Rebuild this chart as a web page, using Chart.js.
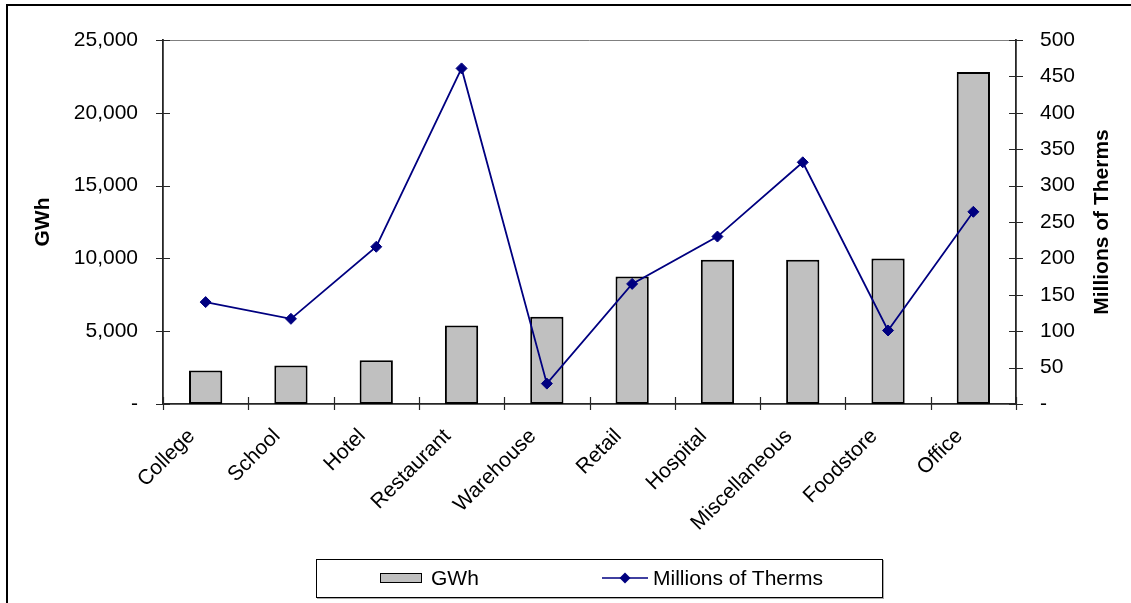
<!DOCTYPE html>
<html><head><meta charset="utf-8">
<script src="https://cdn.jsdelivr.net/npm/chart.js@4.4.0/dist/chart.umd.min.js"></script>
<style>
html,body{margin:0;padding:0;background:#fff;width:1131px;height:603px;overflow:hidden;font-family:"Liberation Sans",Arial,sans-serif;}
#wrap{position:relative;width:1131px;height:603px;}
#c{position:absolute;left:0;top:0;}
#frame{position:absolute;left:6px;top:4px;width:1200px;height:597px;border-left:2px solid #000;border-top:2px solid #000;pointer-events:none;}
#legend{position:absolute;left:316px;top:559px;width:565px;height:37px;border:1px solid #000;box-shadow:1px 1px 0 #aaa;font-size:21px;color:#000;}
#legend .sw{position:absolute;left:63px;top:13px;width:40px;height:8px;background:#c0c0c0;border:1.5px solid #000;}
#legend .t1{position:absolute;left:114px;top:6px;line-height:24px;}
#legend svg{position:absolute;left:285px;top:11px;}
#legend .t2{position:absolute;left:336px;top:6px;line-height:24px;}
</style></head>
<body><div id="wrap">
<canvas id="c" width="1131" height="603"></canvas>
<div id="frame"></div>
<div id="legend"></div>
</div>
<script>
const categories = ['College','School','Hotel','Restaurant','Warehouse','Retail','Hospital','Miscellaneous','Foodstore','Office'];
const gwh = [2300, 2650, 3000, 5400, 6000, 8750, 9900, 9900, 10000, 22800];
const therms = [140, 117, 216, 461, 28, 165, 230, 332, 101, 264];
const leftTitle = 'GWh';
const rightTitle = 'Millions of Therms';
const gwhLabel = 'GWh';
const thermsLabel = 'Millions of Therms';

const FONT = '"Liberation Sans", Arial, sans-serif';
const barColor = '#c0c0c0';
const lineColor = '#000080';
const axisColor = '#262626';

const fmt = v => v === 0 ? '-' : v.toLocaleString('en-US');

const decor = {
  id: 'decor',
  afterDraw(chart) {
    const ctx = chart.ctx, a = chart.chartArea;
    const y = chart.scales.y, y1 = chart.scales.y1, x = chart.scales.x;
    ctx.save();
    // top plot border
    ctx.strokeStyle = '#808080'; ctx.lineWidth = 1;
    ctx.beginPath(); ctx.moveTo(a.left, a.top + 0.5); ctx.lineTo(a.right, a.top + 0.5); ctx.stroke();
    // tick marks
    ctx.strokeStyle = axisColor; ctx.lineWidth = 1.2;
    ctx.beginPath();
    y.ticks.forEach((t, i) => { const p = Math.round(y.getPixelForTick(i)) + 0.5; ctx.moveTo(a.left - 7, p); ctx.lineTo(a.left + 7, p); });
    y1.ticks.forEach((t, i) => { const p = Math.round(y1.getPixelForTick(i)) + 0.5; ctx.moveTo(a.right - 7, p); ctx.lineTo(a.right + 7, p); });
    const half = (x.getPixelForValue(1) - x.getPixelForValue(0)) / 2;
    for (let i = 0; i <= categories.length; i++) {
      const px = Math.round((i < categories.length ? x.getPixelForValue(i) - half : x.getPixelForValue(i - 1) + half)) + 0.5;
      ctx.moveTo(px, a.bottom - 7); ctx.lineTo(px, a.bottom + 6);
    }
    ctx.stroke();
    // axis titles
    ctx.fillStyle = '#000'; ctx.font = 'bold 21px ' + FONT;
    ctx.textAlign = 'center'; ctx.textBaseline = 'middle';
    const cy = (a.top + a.bottom) / 2;
    [[a.left - 120, leftTitle], [a.right + 86, rightTitle]].forEach(([tx, txt]) => {
      ctx.save(); ctx.translate(tx, cy); ctx.rotate(-Math.PI / 2); ctx.fillText(txt, 0, 0); ctx.restore();
    });
    ctx.restore();
  }
};

const chart = new Chart(document.getElementById('c'), {
  data: {
    labels: categories,
    datasets: [
      { type: 'line', label: thermsLabel, data: therms, yAxisID: 'y1', order: 0,
        borderColor: lineColor, backgroundColor: lineColor, borderWidth: 1.8, tension: 0,
        pointStyle: 'rectRot', pointRadius: 5.5, pointBackgroundColor: lineColor, pointBorderColor: lineColor, pointBorderWidth: 1 },
      { type: 'bar', label: gwhLabel, data: gwh, yAxisID: 'y', order: 1,
        backgroundColor: barColor, borderColor: '#000', borderWidth: 2, borderSkipped: false,
        barPercentage: 0.39, categoryPercentage: 1.0 }
    ]
  },
  options: {
    responsive: false, animation: false, devicePixelRatio: 1,
    layout: { padding: { top: 40, left: 0, right: 0, bottom: 0 } },
    plugins: { legend: { display: false }, tooltip: { enabled: false } },
    scales: {
      x: {
        offset: true,
        grid: { display: false, drawTicks: false },
        border: { display: true, color: axisColor, width: 1.8 },
        ticks: { color: '#000', font: { family: FONT, size: 21 }, minRotation: 45, maxRotation: 45, autoSkip: false, padding: 20, labelOffset: -14 },
        afterFit: s => { s.height = 199; }
      },
      y: {
        position: 'left', min: 0, max: 25000,
        grid: { display: false, drawTicks: false },
        border: { display: true, color: axisColor, width: 1.8 },
        ticks: { stepSize: 5000, color: '#000', font: { family: FONT, size: 21 }, padding: 25, callback: fmt },
        afterFit: s => { s.width = 163; }
      },
      y1: {
        position: 'right', min: 0, max: 500,
        grid: { display: false, drawTicks: false },
        border: { display: true, color: axisColor, width: 1.8 },
        ticks: { stepSize: 50, color: '#000', font: { family: FONT, size: 21 }, padding: 24, callback: fmt },
        afterFit: s => { s.width = 115; }
      }
    }
  },
  plugins: [decor]
});

// HTML legend built from the datasets
const lg = document.getElementById('legend');
const ds = chart.data.datasets;
lg.innerHTML =
  '<div class="sw"></div><span class="t1">' + ds[1].label + '</span>' +
  '<svg width="46" height="14"><line x1="0" y1="7" x2="46" y2="7" stroke="' + lineColor + '" stroke-width="1.6"/>' +
  '<polygon points="23,1.5 28.5,7 23,12.5 17.5,7" fill="' + lineColor + '"/></svg>' +
  '<span class="t2">' + ds[0].label + '</span>';
</script>
</body></html>
